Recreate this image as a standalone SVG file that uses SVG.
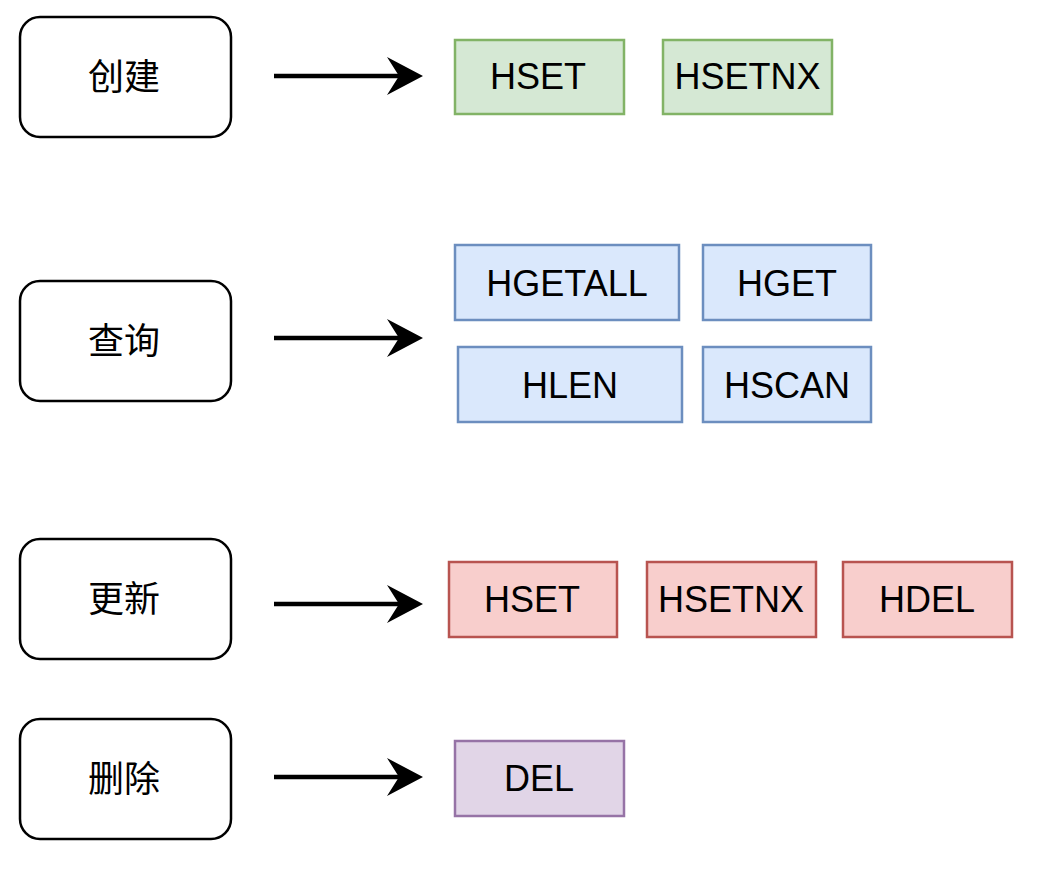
<svg xmlns="http://www.w3.org/2000/svg" width="1050" height="875" viewBox="0 0 1050 875">
<style>
.cat{fill:#ffffff;stroke:#000000;stroke-width:2.5}
.t{font-family:"Liberation Sans","Noto Sans CJK SC",sans-serif;font-size:36px;fill:#000000;text-anchor:middle;dominant-baseline:central}
.g{fill:#d5e8d4;stroke:#82b366;stroke-width:2.5}
.b{fill:#dae8fc;stroke:#6c8ebf;stroke-width:2.5}
.r{fill:#f8cecc;stroke:#b85450;stroke-width:2.5}
.p{fill:#e1d5e7;stroke:#9673a6;stroke-width:2.5}
.edge{stroke:#000000;stroke-width:4.5;fill:none}
.head{fill:#000000;stroke:none}
</style>
<rect width="1050" height="875" fill="#ffffff"/>
<g id="c-create"><rect class="cat" x="20" y="17" width="211" height="120" rx="20"/><text class="t" x="124" y="77">创建</text></g>
<g id="c-query"><rect class="cat" x="20" y="281" width="211" height="120" rx="20"/><text class="t" x="124" y="341">查询</text></g>
<g id="c-update"><rect class="cat" x="20" y="539" width="211" height="120" rx="20"/><text class="t" x="124" y="599">更新</text></g>
<g id="c-delete"><rect class="cat" x="20" y="719" width="211" height="120" rx="20"/><text class="t" x="124" y="779">删除</text></g>
<g id="connectors">
<path class="edge" d="M274 76 H400"/><polygon class="head" points="423,76 387,57 399,76 387,95"/>
<path class="edge" d="M274 338 H400"/><polygon class="head" points="423,338 387,319 399,338 387,357"/>
<path class="edge" d="M274 604 H400"/><polygon class="head" points="423,604 387,585 399,604 387,623"/>
<path class="edge" d="M274 777 H400"/><polygon class="head" points="423,777 387,758 399,777 387,796"/>
</g>
<g id="n-hset1"><rect class="g" x="455" y="40" width="169" height="74"/><text class="t" x="538" y="76">HSET</text></g>
<g id="n-hsetnx1"><rect class="g" x="663" y="40" width="169" height="74"/><text class="t" x="747.5" y="76">HSETNX</text></g>
<g id="n-hgetall"><rect class="b" x="455" y="245" width="224" height="75"/><text class="t" x="567" y="283">HGETALL</text></g>
<g id="n-hget"><rect class="b" x="703" y="245" width="168" height="75"/><text class="t" x="787" y="283">HGET</text></g>
<g id="n-hlen"><rect class="b" x="458" y="347" width="224" height="75"/><text class="t" x="570" y="385">HLEN</text></g>
<g id="n-hscan"><rect class="b" x="703" y="347" width="168" height="75"/><text class="t" x="787" y="385">HSCAN</text></g>
<g id="n-hset2"><rect class="r" x="449" y="562" width="168" height="75"/><text class="t" x="532" y="599">HSET</text></g>
<g id="n-hsetnx2"><rect class="r" x="647" y="562" width="169" height="75"/><text class="t" x="731" y="599">HSETNX</text></g>
<g id="n-hdel"><rect class="r" x="843" y="562" width="169" height="75"/><text class="t" x="927" y="599">HDEL</text></g>
<g id="n-del"><rect class="p" x="455" y="741" width="169" height="75"/><text class="t" x="539" y="778">DEL</text></g>
</svg>
